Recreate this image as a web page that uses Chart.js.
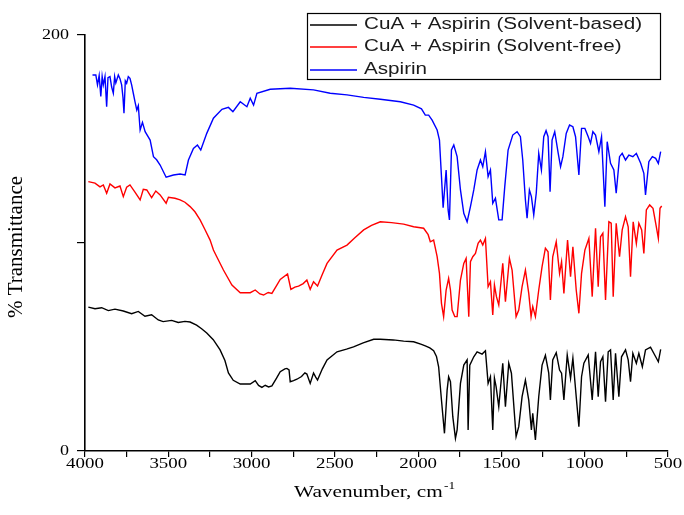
<!DOCTYPE html>
<html>
<head>
<meta charset="utf-8">
<script src="https://cdn.jsdelivr.net/npm/chart.js@4.4.0/dist/chart.umd.min.js"></script>
<style>
  html, body { margin: 0; padding: 0; background: #fff; }
  #wrap { width: 684px; height: 515px; }
</style>
</head>
<body>
<div id="wrap"><canvas id="chartFTIR"></canvas></div>
<script>

// ************************************
// DATA (wavenumber cm-1 / % transmittance)
// ************************************

const blackX = [3980, 3940, 3900, 3860, 3820, 3770, 3720, 3680, 3640, 3600, 3560, 3531, 3480, 3440, 3400, 3369, 3330, 3300, 3269, 3230,
  3189, 3160, 3139, 3110, 3068, 3008, 2978, 2958, 2938, 2918, 2898, 2878, 2850, 2828, 2800, 2788, 2775, 2768, 2748, 2728,
  2700, 2680, 2668, 2648, 2628, 2615, 2604, 2575, 2547, 2487, 2430, 2388, 2330, 2267, 2227, 2150, 2087, 2027, 1980, 1957,
  1930, 1907, 1890, 1877, 1860, 1842, 1826, 1817, 1806, 1792, 1776, 1766, 1746, 1726, 1706, 1700, 1690, 1666, 1646, 1616,
  1596, 1580, 1566, 1552, 1542, 1532, 1516, 1492, 1476, 1456, 1440, 1412, 1396, 1376, 1356, 1336, 1320, 1312, 1296, 1276,
  1256, 1236, 1216, 1206, 1192, 1171, 1151, 1139, 1125, 1105, 1085, 1071, 1051, 1035, 1019, 1005, 979, 955, 935, 919,
  905, 891, 875, 859, 845, 829, 815, 795, 779, 755, 739, 725, 711, 690, 675, 654, 635, 605, 574, 558, 544];
const blackY = [69.2, 68.4, 68.9, 67.5, 68.2, 67.3, 66.0, 67.1, 64.8, 65.5, 63.0, 62.2, 62.8, 61.8, 62.3, 62.0, 60.5, 58.8, 56.7, 53.5,
  48.6, 43.5, 37.5, 34.0, 32.2, 32.2, 33.8, 31.5, 30.6, 31.6, 30.8, 31.3, 35.0, 38.1, 39.5, 39.7, 39.0, 33.3, 33.8, 34.5,
  35.8, 37.6, 37.0, 32.5, 37.5, 35.5, 34.1, 39.5, 43.8, 47.7, 49.0, 50.1, 52.0, 53.7, 53.7, 53.4, 52.8, 52.5, 51.3, 50.5,
  49.6, 48.2, 45.5, 40.5, 24.5, 8.5, 29.3, 35.7, 33.3, 16.5, 6.1, 10.1, 32.5, 41.3, 43.8, 10.1, 41.3, 45.3, 47.7, 46.6,
  48.2, 32.5, 35.7, 10.1, 35.0, 30.9, 21.3, 42.2, 21.3, 42.2, 37.4, 6.9, 11.7, 26.1, 34.1, 24.5, 10.1, 18.1, 5.3, 26.1,
  41.3, 46.0, 37.4, 24.5, 43.8, 47.3, 38.9, 37.4, 24.5, 46.2, 35.0, 44.6, 26.1, 11.7, 35.7, 42.2, 46.2, 24.5, 47.7, 26.1,
  42.9, 45.3, 23.7, 47.7, 48.6, 24.5, 47.0, 26.1, 45.3, 48.6, 43.8, 33.3, 47.0, 42.2, 47.0, 40.5, 48.6, 49.9, 45.3, 42.9, 48.9];

const redX = [3980, 3940, 3910, 3890, 3870, 3850, 3820, 3790, 3770, 3750, 3730, 3700, 3669, 3650, 3629, 3600, 3575, 3549, 3513, 3499,
  3460, 3429, 3400, 3369, 3340, 3309, 3280, 3249, 3229, 3209, 3169, 3118, 3068, 3008, 2978, 2950, 2928, 2900, 2878, 2850,
  2828, 2784, 2764, 2740, 2718, 2690, 2668, 2648, 2628, 2604, 2575, 2547, 2487, 2427, 2380, 2327, 2280, 2227, 2160, 2087,
  2027, 1967, 1940, 1927, 1907, 1886, 1872, 1860, 1847, 1832, 1817, 1806, 1796, 1780, 1766, 1746, 1726, 1712, 1696, 1686,
  1672, 1656, 1640, 1626, 1612, 1596, 1580, 1566, 1552, 1542, 1530, 1516, 1492, 1476, 1452, 1436, 1412, 1396, 1376, 1356,
  1336, 1322, 1312, 1296, 1276, 1256, 1236, 1220, 1206, 1192, 1171, 1151, 1139, 1125, 1103, 1085, 1071, 1051, 1035, 1019,
  999, 975, 955, 935, 919, 905, 891, 875, 855, 841, 829, 811, 791, 775, 755, 739, 725, 709, 690, 675,
  658, 645, 630, 610, 590, 574, 558, 548, 538];
const redY = [129.5, 128.8, 127.0, 127.9, 123.9, 128.4, 126.5, 127.4, 122.3, 126.8, 127.9, 124.5, 120.7, 125.8, 125.5, 121.8, 125.0, 123.1, 119.1, 122.0,
  121.5, 120.7, 119.6, 117.5, 115.0, 111.1, 106.5, 101.4, 96.6, 93.4, 87.0, 79.8, 76.1, 76.1, 77.4, 75.5, 75.0, 76.2, 75.8, 79.5,
  82.5, 85.1, 77.7, 78.8, 79.3, 80.5, 82.2, 77.7, 81.4, 79.3, 85.0, 90.2, 96.6, 99.0, 102.5, 106.3, 108.5, 110.2, 109.8, 109.1,
  107.8, 107.1, 104.0, 100.6, 101.4, 93.4, 85.4, 71.0, 64.6, 77.4, 83.0, 77.4, 67.8, 64.6, 64.6, 82.2, 90.2, 92.6, 64.6, 91.0,
  93.4, 95.0, 99.8, 101.4, 99.0, 102.2, 79.0, 81.4, 65.4, 79.8, 74.2, 70.2, 90.2, 71.8, 92.6, 87.0, 64.6, 67.8, 79.0, 87.0,
  75.8, 64.6, 69.4, 64.6, 77.4, 88.6, 97.5, 95.8, 72.6, 93.4, 100.6, 85.4, 91.0, 75.8, 101.4, 83.8, 98.2, 77.4, 66.2, 85.4,
  96.6, 102.2, 74.2, 107.1, 79.0, 103.0, 104.7, 72.6, 110.2, 109.5, 74.2, 109.5, 93.4, 106.3, 112.6, 107.8, 83.8, 110.2, 99.8, 109.5,
  106.3, 95.0, 115.9, 118.3, 116.7, 109.5, 102.2, 116.7, 117.8];

const blueX = [3955, 3935, 3925, 3915, 3905, 3897, 3890, 3880, 3870, 3862, 3850, 3840, 3830, 3822, 3815, 3800, 3790, 3780, 3772, 3766,
  3758, 3750, 3740, 3730, 3720, 3710, 3700, 3689, 3680, 3669, 3655, 3639, 3609, 3589,
  3570, 3549, 3513, 3469, 3429, 3399, 3379, 3349, 3325, 3305, 3269, 3229, 3178, 3139, 3112, 3068, 3028, 3008, 2988, 2968,
  2888, 2768, 2628, 2528, 2427, 2327, 2227, 2107, 2027, 1980, 1957, 1937, 1916, 1886, 1872, 1860, 1850, 1832, 1820, 1812,
  1800, 1786, 1766, 1746, 1726, 1706, 1686, 1666, 1646, 1626, 1612, 1596, 1580, 1566, 1552, 1536, 1516, 1496, 1480, 1460,
  1432, 1406, 1386, 1372, 1356, 1346, 1332, 1320, 1306, 1291, 1276, 1260, 1246, 1232, 1220, 1208, 1196, 1180, 1159, 1145,
  1131, 1111, 1091, 1071, 1055, 1035, 1019, 999, 979, 965, 951, 935, 915, 899, 879, 865, 845, 825, 811, 791,
  775, 755, 735, 711, 690, 664, 645, 635, 615, 594, 574, 558, 544];
const blueY = [180.8, 180.8, 176.0, 180.5, 170.5, 180.0, 176.0, 180.0, 165.5, 179.5, 180.0, 175.0, 172.0, 180.0, 177.0, 180.8, 179.0, 176.0, 170.0, 162.4,
  178.0, 176.8, 180.0, 179.2, 176.0, 172.0, 168.0, 163.9, 166.0, 154.3, 158.0, 153.5, 149.5, 141.5,
  140.0, 137.5, 131.6, 132.7, 133.2, 132.7, 139.9, 145.5, 147.1, 144.7, 152.7, 160.0, 164.3, 165.2, 163.1, 167.9, 165.5, 169.6, 166.3, 172.0,
  173.9, 174.4, 173.6, 172.0, 171.2, 170.0, 169.1, 167.9, 166.3, 164.5, 161.5, 161.5, 159.1, 154.3, 149.5, 131.9, 117.0, 135.1, 115.9, 111.1,
  144.7, 147.1, 141.5, 125.5, 114.3, 110.2, 117.5, 125.5, 135.1, 139.9, 136.7, 143.9, 131.9, 135.1, 119.1, 121.5, 111.1, 111.1, 127.1, 144.7,
  151.9, 153.5, 151.1, 139.9, 120.7, 111.9, 125.5, 122.3, 113.5, 123.9, 143.1, 135.1, 151.1, 154.0, 151.1, 124.7, 149.5, 153.5, 143.1, 136.7,
  141.5, 152.7, 156.7, 155.9, 151.1, 132.7, 155.1, 155.1, 151.1, 147.9, 153.5, 151.9, 143.9, 151.1, 117.5, 148.7, 138.3, 135.1, 123.9, 141.5,
  143.1, 139.9, 142.3, 141.5, 143.1, 138.3, 133.5, 123.1, 139.1, 141.5, 140.7, 138.3, 143.9];

const seriesLabels = ['CuA + Aspirin (Solvent-based)', 'CuA + Aspirin (Solvent-free)', 'Aspirin'];
const seriesColors = ['#000000', '#ff0000', '#0000ff'];
const xTickLabels = [4000, 3500, 3000, 2500, 2000, 1500, 1000, 500];
const yTickLabels = [0, 200];

function toPoints(xs, ys) {
  return xs.map((x, i) => ({ x: x, y: ys[i] }));
}

// ************************************
// TEXT : tick labels, titles, legend box (drawn stretched like the original)
// ************************************

const textPlugin = {
  id: 'textPlugin',
  afterDraw(chart) {
    const ctx = chart.ctx;
    const xs = chart.scales.x;
    const ys = chart.scales.y;
    const area = chart.chartArea;

    ctx.save();
    ctx.fillStyle = '#000';

    // x tick labels
    ctx.font = '15px "Liberation Serif"';
    ctx.textAlign = 'center';
    ctx.textBaseline = 'middle';
    xTickLabels.forEach(v => {
      ctx.save();
      ctx.translate(xs.getPixelForValue(v), area.bottom + 13);
      ctx.scale(1.26, 1);
      ctx.fillText(String(v), 0, 0);
      ctx.restore();
    });

    // y tick labels
    ctx.textAlign = 'right';
    yTickLabels.forEach(v => {
      ctx.save();
      ctx.translate(area.left - 16, ys.getPixelForValue(v));
      ctx.scale(1.2, 1);
      ctx.fillText(String(v), 0, 0);
      ctx.restore();
    });

    // x title
    ctx.save();
    ctx.translate(294, 493);
    ctx.scale(1.33, 1);
    ctx.textAlign = 'left';
    ctx.textBaseline = 'alphabetic';
    ctx.font = '16px "Liberation Serif"';
    const main = 'Wavenumber, cm';
    ctx.fillText(main, 0, 4);
    const w = ctx.measureText(main).width;
    ctx.font = '10px "Liberation Serif"';
    ctx.fillText('-1', w + 1, -4);
    ctx.restore();

    // y title
    ctx.save();
    ctx.translate(16, 247);
    ctx.rotate(-Math.PI / 2);
    ctx.textAlign = 'center';
    ctx.textBaseline = 'middle';
    ctx.font = '21px "Liberation Serif"';
    ctx.fillText('% Transmittance', 0, 0);
    ctx.restore();

    // legend
    const bx = 307, by = 13, bw = 353, bh = 66;
    const rowY = [25, 47, 70];
    ctx.fillStyle = '#fff';
    ctx.fillRect(bx, by, bw, bh);
    ctx.strokeStyle = '#000';
    ctx.lineWidth = 1.2;
    ctx.strokeRect(bx + 0.5, by + 0.5, bw, bh);
    ctx.font = '16px "Liberation Sans"';
    ctx.textAlign = 'left';
    ctx.textBaseline = 'middle';
    seriesLabels.forEach((label, i) => {
      const ry = rowY[i];
      ctx.strokeStyle = seriesColors[i];
      ctx.lineWidth = 1.4;
      ctx.beginPath();
      ctx.moveTo(bx + 3, ry);
      ctx.lineTo(bx + 50, ry);
      ctx.stroke();
      ctx.save();
      ctx.translate(bx + 57, ry);
      ctx.scale(1.29, 1);
      ctx.fillStyle = '#1a1a1a';
      ctx.fillText(label, 0, 0);
      ctx.restore();
    });
    ctx.restore();
  }
};

// ************************************
// CHART
// ************************************

const dataFTIR = {
  datasets: [
    {
      label: seriesLabels[0],
      data: toPoints(blackX, blackY),
      borderColor: seriesColors[0],
    },
    {
      label: seriesLabels[1],
      data: toPoints(redX, redY),
      borderColor: seriesColors[1],
    },
    {
      label: seriesLabels[2],
      data: toPoints(blueX, blueY),
      borderColor: seriesColors[2],
    }
  ]
};

new Chart(
  document.getElementById('chartFTIR'),
  {
    type: 'line',
    data: dataFTIR,
    options: {
      responsive: true,
      maintainAspectRatio: false,
      animation: false,
      devicePixelRatio: 1,
      layout: {
        padding: { top: 35, right: 16, left: 0, bottom: 0 }
      },
      elements: {
        point: { radius: 0 },
        line: { borderWidth: 1.4, tension: 0 }
      },
      plugins: {
        legend: { display: false },
        tooltip: { enabled: false }
      },
      scales: {
        x: {
          type: 'linear',
          reverse: true,
          min: 500,
          max: 4000,
          ticks: { stepSize: 250, callback: () => '', padding: 0 },
          grid: { drawOnChartArea: false, color: '#000', tickLength: 6, lineWidth: 1.2 },
          border: { color: '#000', width: 1.6 },
          afterFit: (s) => { s.height = 64; }
        },
        y: {
          min: 0,
          max: 200,
          ticks: { stepSize: 100, callback: () => '', padding: 0 },
          grid: { drawOnChartArea: false, color: '#000', tickLength: 8, lineWidth: 1.2 },
          border: { color: '#000', width: 1.6 },
          afterFit: (s) => { s.width = 85; }
        }
      }
    },
    plugins: [textPlugin]
  }
);
</script>
</body>
</html>
